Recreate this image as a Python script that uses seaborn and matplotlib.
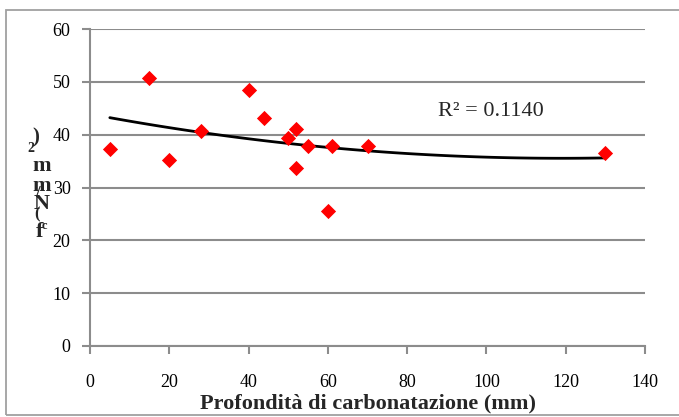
import numpy as np
import pandas as pd
import matplotlib
matplotlib.use("Agg")
import matplotlib.pyplot as plt
import seaborn as sns
from matplotlib.patches import Rectangle

# Data
depth_mm = [5, 15, 20, 28, 40, 44, 50, 52, 52, 55, 60, 61, 70, 130]
fc_mpa = [37.3, 50.7, 35.2, 40.6, 48.4, 43.2, 39.4, 41.0, 33.7, 37.9, 25.5, 37.9, 37.9, 36.6]
x_ticks = [0, 20, 40, 60, 80, 100, 120, 140]
y_ticks = [0, 10, 20, 30, 40, 50, 60]
r2_label = "R² = 0.1140"
x_label = "Profondità di carbonatazione (mm)"

df = pd.DataFrame({"depth": depth_mm, "fc": fc_mpa})

sns.set_style("white")
plt.rcParams["font.family"] = ["Liberation Serif", "DejaVu Serif"]

fig = plt.figure(figsize=(6.79, 4.17), dpi=100)
ax = fig.add_axes([90 / 679, 1 - 346 / 417, 555 / 679, 317 / 417])

grey = "#8c8c8c"
# chart border
fig.patches.append(Rectangle((6 / 679, 2 / 417), 1.2, 405 / 417, transform=fig.transFigure,
                             fill=False, edgecolor="#a0a0a0", lw=1.3, clip_on=False))

sns.regplot(data=df, x="depth", y="fc", order=2, ci=None, scatter=False, ax=ax,
            line_kws={"color": "black", "lw": 2.0}, truncate=True)
sns.scatterplot(data=df, x="depth", y="fc", ax=ax, marker="D", s=60, color="#ff0000",
                edgecolor="#ff0000", linewidth=0, zorder=5)

ax.set_xlim(0, 140)
ax.set_ylim(0, 60)
ax.set_xticks(x_ticks)
ax.set_yticks(y_ticks)
ax.yaxis.grid(True, color=grey, lw=1.5)
ax.xaxis.grid(False)
ax.set_axisbelow(True)
for s in ["top", "right"]:
    ax.spines[s].set_visible(False)
for s in ["left", "bottom"]:
    ax.spines[s].set_color(grey)
    ax.spines[s].set_linewidth(1.5)
ax.tick_params(axis="both", direction="out", length=6, width=1.5, color=grey,
               labelsize=13, labelcolor="black")
ax.tick_params(axis="y", left=True, pad=8)
ax.tick_params(axis="x", bottom=True, pad=14)

ax.set_xlabel(x_label, fontsize=16, fontweight="bold", labelpad=2)
ax.set_ylabel("")

ax.text(438 / 679, 1 - 112 / 417, r2_label, transform=fig.transFigure, fontsize=16,
        va="center", ha="left")

# garbled stacked y label as in the reference
chars = [(")", 36, 137, 15), ("2", 31, 149, 10), ("m", 42, 166, 16), ("m", 42, 186, 16),
         ("/", 37, 193, 12), ("N", 42, 204, 16), ("(", 37, 214, 12), ("c", 44, 226, 9),
         ("f", 40, 232, 16)]
for ch, px, py, fs in chars:
    fig.text(px / 679, 1 - py / 417, ch, fontsize=fs, fontweight="bold", ha="center", va="center")

fig.savefig("out.png", dpi=100)
